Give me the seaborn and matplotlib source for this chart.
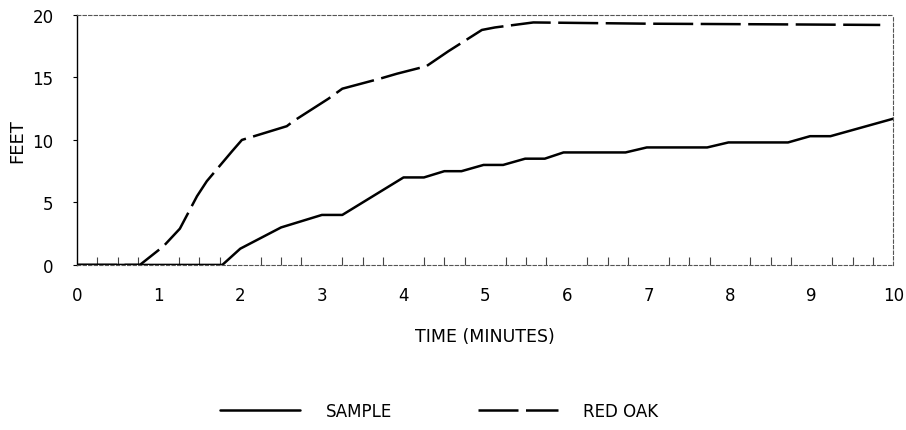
import pandas as pd
import matplotlib
matplotlib.use('Agg')
import matplotlib.pyplot as plt
import seaborn as sns
from matplotlib.ticker import MultipleLocator

# valores
t_sample = [0, 1.78, 2.0, 2.5, 3.0, 3.25, 4.0, 4.25, 4.5, 4.71, 4.98, 5.22, 5.49, 5.73,
            5.96, 6.72, 6.98, 7.72, 7.98, 8.71, 8.98, 9.23, 10.0]
ft_sample = [0, 0, 1.3, 3.0, 4.0, 4.0, 7.0, 7.0, 7.5, 7.5, 8.0, 8.0, 8.5, 8.5,
             9.0, 9.0, 9.4, 9.4, 9.8, 9.8, 10.3, 10.3, 11.7]

t_oak = [0, 0.77, 1.06, 1.26, 1.47, 1.59, 1.9, 2.02, 2.57, 2.65, 3.08, 3.25, 3.71,
         3.92, 4.28, 4.55, 4.96, 5.12, 5.59, 7.0, 8.5, 9.84]
ft_oak = [0, 0, 1.5, 2.9, 5.5, 6.7, 9.1, 10.0, 11.1, 11.5, 13.3, 14.1, 14.9,
          15.3, 15.9, 17.1, 18.8, 19.0, 19.4, 19.3, 19.25, 19.2]

sns.set_style('white')
plt.rcParams['font.family'] = ['DejaVu Sans']
plt.rcParams['text.color'] = 'black'
plt.rcParams['axes.labelcolor'] = 'black'
plt.rcParams['xtick.color'] = 'black'
plt.rcParams['ytick.color'] = 'black'

fig = plt.figure(figsize=(9.06, 4.31), dpi=100)
ax = fig.add_axes([0.085, 0.383, 0.901, 0.58])

sns.lineplot(x=t_sample, y=ft_sample, ax=ax, color='black', lw=1.8, label='SAMPLE')
sns.lineplot(x=t_oak, y=ft_oak, ax=ax, color='black', lw=1.8, label='RED OAK')
ax.lines[1].set_dashes((16, 3))

ax.set_xlim(0, 10)
ax.set_ylim(0, 20)
ax.set_xticks(range(0, 11))
ax.set_yticks([0, 5, 10, 15, 20])
ax.xaxis.set_minor_locator(MultipleLocator(0.25))
ax.tick_params(axis='x', which='major', length=0, pad=15, labelsize=12)
ax.tick_params(axis='x', which='minor', bottom=True, direction='in', length=6, width=0.8, color='#444444')
ax.tick_params(axis='y', which='major', direction='out', length=3, width=0.8, pad=14,
               labelsize=12, left=True)

for s in ['top', 'right', 'bottom']:
    ax.spines[s].set_linestyle((0, (3, 2)))
    ax.spines[s].set_color('#555555')
    ax.spines[s].set_linewidth(0.8)
ax.spines['left'].set_color('black')
ax.spines['left'].set_linewidth(1.0)

ax.set_xlabel('TIME (MINUTES)', fontsize=12.5, labelpad=17)
ax.set_ylabel('FEET', fontsize=13, labelpad=4)

handles, labels = ax.get_legend_handles_labels()
ax.get_legend().remove()
fig.legend(handles, labels, loc='center', bbox_to_anchor=(0.485, 0.044), ncol=2,
           frameon=False, fontsize=12, handlelength=4.8, handletextpad=1.5, columnspacing=5.2)

fig.savefig('out.png', dpi=100)
